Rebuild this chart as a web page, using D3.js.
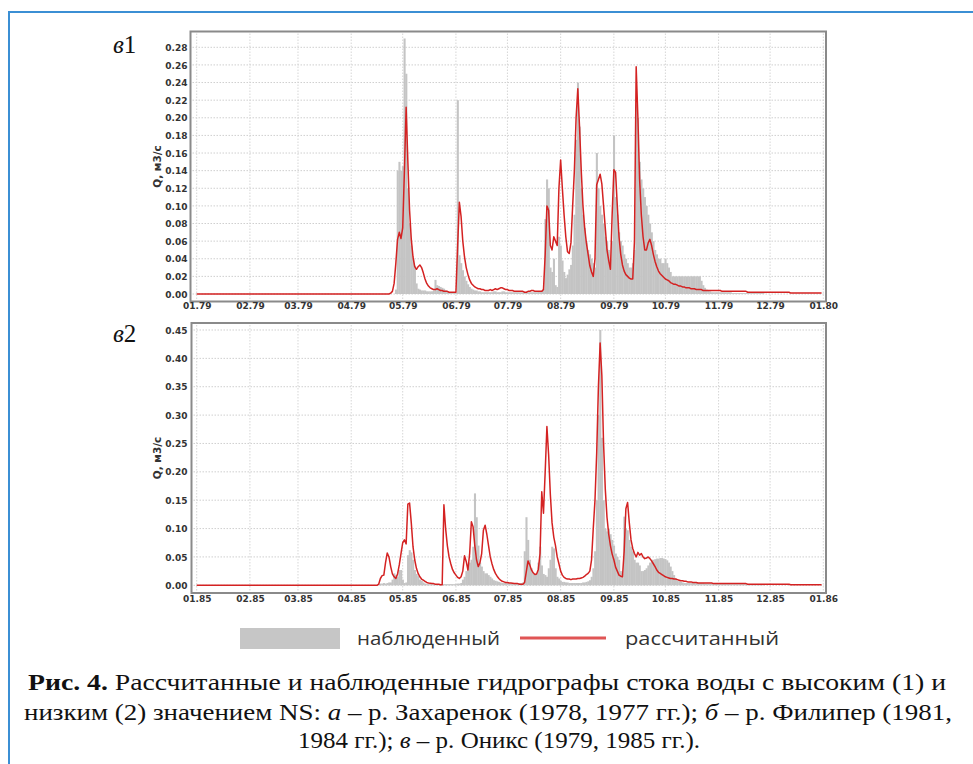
<!DOCTYPE html>
<html><head><meta charset="utf-8">
<script src="https://cdn.jsdelivr.net/npm/d3@7"></script>
<style>body{margin:0;background:#fff} svg{display:block} .serif{font-family:"Liberation Serif","Times New Roman",Times,serif}</style>
</head><body>
<svg id="c" width="973" height="764"></svg>
<script>
// ---------------- DATA ----------------
// panel в1 (1979), daily discharge Q, m3/s
const year1 = 1979;
const obs1Start = "1979-04-23";
const obs1 = [
 0,0,0,0,0.005,0.14,0.15,0.14,0.145,0.29,
 0.25,0.12,0.08,0.055,0.04,0.032,0.012,0.006,0.005,0.004,
 0.004,0.004,0.003,0.003,0.003,0.003,0.004,0.016,0.01,0.009,
 0.008,0.007,0.006,0.004,0.003,0.002,0.001,0.001,0.001,0.001,
 0.22,0.044,0.035,0.027,0.02,0.015,0.011,0.008,0.006,0.005,
 0.004,0.004,0.003,0.003,0.002,0.002,0.002,0.002,0.002,0.002,
 0.002,0.003,0.003,0.002,0.002,0.002,0.003,0.003,0.002,0.002,
 0.002,0.002,0.002,0.002,0.002,0.002,0.002,0.002,0.002,0.002,
 0.002,0.002,0.002,0.002,0.002,0.002,0.002,0.003,0.003,0.003,
 0.005,0.085,0.13,0.12,0.03,0.025,0.04,0.01,0.008,0.065,
 0.055,0.038,0.025,0.018,0.022,0.028,0.033,0.055,0.09,0.175,
 0.24,0.19,0.12,0.09,0.075,0.06,0.05,0.045,0.04,0.035,
 0.03,0.16,0.12,0.1,0.09,0.08,0.065,0.06,0.05,0.04,
 0.06,0.18,0.11,0.09,0.07,0.06,0.055,0.045,0.04,0.035,
 0.03,0.03,0.035,0.05,0.215,0.2,0.15,0.13,0.12,0.11,
 0.1,0.09,0.08,0.07,0.06,0.05,0.045,0.04,0.04,0.035,
 0.035,0.04,0.035,0.03,0.025,0.02,0.02,0.02,0.02,0.02,
 0.02,0.02,0.02,0.02,0.02,0.02,0.02,0.02,0.02,0.02,
 0.02,0.02,0.015,0.01,0.007,0.005,0.004,0.003,0.002,0.002,
 0.002,0.002,0.002,0.002,0.002,0.002,0.002,0.002,0.002,0.002,
 0.001,0.001,0.001,0.001,0.001,0.001,0.001,0.001,0.001,0.001,
 0.001,0.001,0.001,0.001,0.001,0.001,0.001,0.001,0.001
];
const calc1Start = "1979-04-23";
const calc1 = [
 0,0.001,0.003,0.012,0.035,0.062,0.07,0.063,0.075,0.14,
 0.212,0.15,0.095,0.062,0.042,0.031,0.028,0.031,0.033,0.03,
 0.024,0.017,0.012,0.009,0.007,0.006,0.005,0.005,0.006,0.005,
 0.004,0.004,0.003,0.003,0.003,0.002,0.002,0.002,0.002,0.002,
 0.055,0.104,0.088,0.06,0.042,0.03,0.022,0.016,0.012,0.01,
 0.008,0.007,0.006,0.006,0.005,0.005,0.004,0.004,0.004,0.005,
 0.004,0.005,0.006,0.005,0.006,0.007,0.007,0.006,0.005,0.005,
 0.004,0.004,0.004,0.003,0.003,0.003,0.003,0.003,0.003,0.002,
 0.002,0.003,0.003,0.004,0.004,0.003,0.003,0.003,0.003,0.003,
 0.005,0.045,0.1,0.095,0.055,0.05,0.065,0.06,0.055,0.12,
 0.152,0.12,0.09,0.065,0.048,0.046,0.058,0.1,0.14,0.2,
 0.233,0.19,0.14,0.1,0.075,0.058,0.045,0.032,0.025,0.02,
 0.04,0.124,0.13,0.136,0.125,0.1,0.075,0.05,0.038,0.028,
 0.09,0.141,0.138,0.1,0.065,0.045,0.033,0.026,0.022,0.02,
 0.018,0.017,0.017,0.06,0.258,0.2,0.13,0.09,0.065,0.05,
 0.05,0.058,0.062,0.055,0.045,0.037,0.031,0.026,0.023,0.021,
 0.019,0.017,0.016,0.015,0.013,0.012,0.011,0.011,0.01,0.009,
 0.009,0.008,0.008,0.007,0.007,0.007,0.006,0.006,0.006,0.005,
 0.005,0.005,0.005,0.004,0.004,0.004,0.004,0.004,0.004,0.004,
 0.004,0.004,0.004,0.004,0.003,0.003,0.003,0.003,0.003,0.003,
 0.003,0.003,0.003,0.003,0.003,0.003,0.003,0.003,0.003,0.002,
 0.002,0.002,0.002,0.002,0.002,0.002,0.002,0.002,0.002,0.002,
 0.002,0.002,0.002,0.002,0.002,0.002,0.002,0.002,0.002,0.002,
 0.002,0.002,0.002,0.002,0.001,0.001,0.001,0.001,0.001,0.001,
 0.001,0.001,0.001,0.001,0.001,0.001,0.001,0.001,0.001,0.001,
 0.001,0.001,0.001
];
const yTicks1 = [0,0.02,0.04,0.06,0.08,0.10,0.12,0.14,0.16,0.18,0.20,0.22,0.24,0.26,0.28];
const xLabels1 = ["01.79","02.79","03.79","04.79","05.79","06.79","07.79","08.79","09.79","10.79","11.79","12.79","01.80"];

// panel в2 (1985)
const year2 = 1985;
const obs2Start = "1985-04-15";
const obs2 = [
 0,0,0.002,0.003,0.003,0.004,0.003,0.004,0.005,0.005,
 0.01,0.021,0.018,0.015,0.027,0.027,0.01,0.004,0.005,0.053,
 0.062,0.058,0.045,0.027,0.02,0.016,0.01,0.008,0.005,0.003,
 0.002,0.002,0.002,0.002,0.002,0.002,0.002,0.002,0.002,0.002,
 0.002,0.002,0.002,0.002,0.002,0.002,0.002,0.002,0.003,0.003,
 0.004,0.01,0.015,0.025,0.033,0.04,0.045,0.068,0.162,0.12,
 0.07,0.04,0.033,0.025,0.021,0.021,0.018,0.015,0.012,0.009,
 0.008,0.007,0.006,0.005,0.004,0.004,0.004,0.004,0.003,0.003,
 0.003,0.003,0.004,0.004,0.004,0.004,0.005,0.06,0.12,0.08,
 0.045,0.03,0.021,0.018,0.021,0.04,0.068,0.035,0.02,0.018,
 0.015,0.03,0.045,0.068,0.065,0.03,0.015,0.012,0.008,0.006,
 0.006,0.005,0.005,0.004,0.004,0.004,0.004,0.004,0.004,0.004,
 0.004,0.005,0.005,0.006,0.007,0.009,0.015,0.03,0.06,0.15,
 0.3,0.45,0.26,0.15,0.1,0.095,0.1,0.09,0.08,0.07,
 0.056,0.05,0.045,0.025,0.02,0.121,0.1,0.097,0.08,0.068,
 0.06,0.045,0.04,0.04,0.035,0.025,0.025,0.027,0.03,0.035,
 0.04,0.045,0.045,0.046,0.047,0.047,0.048,0.048,0.047,0.046,
 0.044,0.04,0.033,0.025,0.018,0.012,0.008,0.007,0.006,0.005,
 0.004,0.004,0.004,0.004,0.004,0.004,0.004,0.004,0.004,0.004,
 0.004,0.004,0.003,0.003,0.003,0.003,0.003,0.003,0.003,0.003,
 0.003,0.003,0.003,0.003,0.003,0.003,0.003,0.002,0.002,0.002,
 0.002,0.002,0.002,0.002,0.002,0.002,0.002,0.002,0.002,0.002,
 0.002,0.002,0.002,0.002,0.002,0.002,0.002
];
const calc2Start = "1985-04-15";
const calc2 = [
 0,0,0.002,0.012,0.017,0.018,0.04,0.057,0.05,0.033,
 0.02,0.015,0.012,0.02,0.036,0.056,0.075,0.08,0.073,0.143,
 0.145,0.11,0.068,0.045,0.03,0.021,0.015,0.011,0.009,0.007,
 0.005,0.004,0.0035,0.003,0.003,0.002,0.002,0.002,0.001,0.001,
 0.142,0.1,0.07,0.05,0.038,0.028,0.022,0.018,0.014,0.012,
 0.015,0.025,0.052,0.042,0.027,0.056,0.112,0.103,0.07,0.045,
 0.033,0.04,0.056,0.097,0.106,0.09,0.07,0.05,0.038,0.028,
 0.021,0.016,0.012,0.009,0.007,0.006,0.005,0.005,0.004,0.004,
 0.0035,0.003,0.003,0.003,0.002,0.002,0.002,0.005,0.024,0.043,
 0.036,0.027,0.022,0.019,0.02,0.028,0.056,0.165,0.127,0.2,
 0.28,0.23,0.16,0.11,0.085,0.07,0.05,0.038,0.025,0.018,
 0.014,0.012,0.011,0.011,0.01,0.011,0.011,0.011,0.012,0.012,
 0.013,0.014,0.016,0.019,0.021,0.025,0.045,0.1,0.15,0.233,
 0.35,0.427,0.37,0.25,0.17,0.12,0.09,0.07,0.055,0.045,
 0.032,0.025,0.018,0.016,0.015,0.06,0.135,0.146,0.11,0.08,
 0.065,0.056,0.05,0.058,0.053,0.056,0.05,0.047,0.048,0.05,
 0.047,0.043,0.038,0.033,0.027,0.023,0.021,0.019,0.017,0.015,
 0.014,0.013,0.012,0.012,0.011,0.011,0.01,0.009,0.008,0.008,
 0.007,0.007,0.006,0.006,0.006,0.005,0.005,0.005,0.004,0.004,
 0.004,0.004,0.004,0.004,0.004,0.004,0.004,0.003,0.003,0.003,
 0.003,0.003,0.003,0.003,0.003,0.003,0.003,0.003,0.003,0.003,
 0.003,0.003,0.003,0.003,0.003,0.003,0.003,0.002,0.002,0.002,
 0.002,0.002,0.002,0.002,0.002,0.002,0.002,0.002,0.002,0.002,
 0.002,0.002,0.002,0.002,0.002,0.002,0.002,0.002,0.002,0.002,
 0.002,0.002,0.001,0.001,0.001,0.001,0.001,0.001,0.001,0.001,
 0.001,0.001,0.001,0.001,0.001,0.001,0.001,0.001,0.001,0.001,0.001
];
const yTicks2 = [0,0.05,0.10,0.15,0.20,0.25,0.30,0.35,0.40,0.45];
const xLabels2 = ["01.85","02.85","03.85","04.85","05.85","06.85","07.85","08.85","09.85","10.85","11.85","12.85","01.86"];

const yTitle = "Q, м3/с";
const legendLabels = ["наблюденный", "рассчитанный"];

// ---------------- DRAWING ----------------
const svg = d3.select("#c");
const parse = d3.utcParse("%Y-%m-%d");
const COL_OBS = "#c4c4c4", COL_CALC = "#d42222";

// blue figure frame
svg.append("path").attr("d", "M9,764 V12 H973")
  .attr("fill", "none").attr("stroke", "#3b8fd4").attr("stroke-width", 2);

function series(startStr, values) {
  const s = parse(startStr);
  return values.map((v, i) => ({date: d3.utcDay.offset(s, i), v}));
}

function drawPanel(o) {
  const g = svg.append("g");
  const t0 = new Date(Date.UTC(o.year, 0, 1)), t1 = new Date(Date.UTC(o.year + 1, 0, 1));
  const x = d3.scaleUtc().domain([t0, t1]).range([196.7, 823.3]);
  const y = d3.scaleLinear().domain([0, o.yTicks[o.yTicks.length - 1]]).range(o.yRange);
  const f = o.frame;

  g.append("rect").attr("x", f.l).attr("y", f.t).attr("width", f.r - f.l).attr("height", f.b - f.t)
    .attr("fill", "#fff");

  // grid
  const months = d3.utcMonth.range(t0, d3.utcDay.offset(t1, 1));
  g.append("g").selectAll("line").data(o.yTicks).join("line")
    .attr("x1", f.l + 2).attr("x2", f.r - 2).attr("y1", d => y(d)).attr("y2", d => y(d))
    .attr("stroke", "#cfcfcf").attr("stroke-width", 1).attr("stroke-dasharray", "1.5,1.5");
  g.append("g").selectAll("line").data(months).join("line")
    .attr("x1", d => x(d)).attr("x2", d => x(d)).attr("y1", f.t + 2).attr("y2", f.b - 2)
    .attr("stroke", "#d6d6d6").attr("stroke-width", 1).attr("stroke-dasharray", "1.5,1.5");

  // observed bars
  const obs = series(o.obsStart, o.obs).filter(d => d.v > 0);
  const w = x(d3.utcDay.offset(t0, 1)) - x(t0);
  g.append("g").selectAll("rect").data(obs).join("rect")
    .attr("x", d => x(d.date) - w / 2).attr("width", w + 0.35)
    .attr("y", d => y(d.v)).attr("height", d => y(0) - y(d.v))
    .attr("fill", COL_OBS);

  // computed line (flat zero before the data window)
  const calc = [{date: t0, v: 0}].concat(series(o.calcStart, o.calc));
  g.append("path").datum(calc)
    .attr("d", d3.line().x(d => x(d.date)).y(d => y(d.v)))
    .attr("fill", "none").attr("stroke", COL_CALC).attr("stroke-width", 1.5)
    .attr("stroke-linejoin", "round");

  // frame
  g.append("rect").attr("x", f.l).attr("y", f.t).attr("width", f.r - f.l).attr("height", f.b - f.t)
    .attr("fill", "none").attr("stroke", "#8a8a8a").attr("stroke-width", 2);

  // y axis labels
  const yAxis = d3.axisLeft(y).tickValues(o.yTicks).tickFormat(d3.format(".2f")).tickSize(0).tickPadding(0);
  g.append("g").attr("transform", `translate(187.5,0)`).call(yAxis)
    .call(s => s.select(".domain").remove())
    .call(s => s.selectAll("text").attr("font-family", "DejaVu Sans").attr("font-weight", "bold")
      .attr("font-size", 9).attr("fill", "#333").attr("dy", "0.35em"));

  // x axis labels
  const xAxis = d3.axisBottom(x).tickValues(months).tickFormat((d, i) => o.xLabels[i]).tickSize(0).tickPadding(0);
  g.append("g").attr("transform", `translate(0,${o.xLabelY})`).call(xAxis)
    .call(s => s.select(".domain").remove())
    .call(s => s.selectAll("text").attr("font-family", "DejaVu Sans").attr("font-weight", "bold")
      .attr("font-size", 9).attr("fill", "#333").attr("dy", "0.71em"));

  // y title
  g.append("text").attr("transform", `translate(161,${(f.t + f.b) / 2}) rotate(-90)`)
    .attr("text-anchor", "middle").attr("font-family", "DejaVu Sans").attr("font-weight", "bold")
    .attr("font-size", 10.5).attr("fill", "#333").text(yTitle);

  // panel tag
  const tag = svg.append("text").attr("class", "serif").attr("x", 113).attr("y", o.tagY)
    .attr("font-size", 25).attr("fill", "#111");
  tag.append("tspan").attr("font-style", "italic").text("в");
  tag.append("tspan").text(o.tagNum);
}

drawPanel({year: year1, obs: obs1, obsStart: obs1Start, calc: calc1, calcStart: calc1Start,
  yTicks: yTicks1, xLabels: xLabels1, yRange: [294, 47.3],
  frame: {l: 190.5, t: 31.5, r: 826, b: 301.5}, xLabelY: 303, tagY: 53, tagNum: "1"});
drawPanel({year: year2, obs: obs2, obsStart: obs2Start, calc: calc2, calcStart: calc2Start,
  yTicks: yTicks2, xLabels: xLabels2, yRange: [585.3, 330],
  frame: {l: 191.5, t: 323, r: 826, b: 593}, xLabelY: 596, tagY: 342, tagNum: "2"});

// legend
const lg = svg.append("g");
lg.append("rect").attr("x", 240).attr("y", 628).attr("width", 100).attr("height", 21).attr("fill", "#c6c6c6");
lg.append("text").attr("x", 357).attr("y", 645).attr("font-family", "Open Sans").attr("font-size", 19)
  .attr("fill", "#333").attr("textLength", 143).attr("lengthAdjust", "spacingAndGlyphs").text(legendLabels[0]);
lg.append("line").attr("x1", 520).attr("x2", 606).attr("y1", 638).attr("y2", 638)
  .attr("stroke", "#e05555").attr("stroke-width", 3);
lg.append("text").attr("x", 625).attr("y", 645).attr("font-family", "Open Sans").attr("font-size", 19)
  .attr("fill", "#333").attr("textLength", 154).attr("lengthAdjust", "spacingAndGlyphs").text(legendLabels[1]);

// caption
function capLine(yb, x0, len, parts) {
  const t = svg.append("text").attr("class", "serif").attr("x", x0).attr("y", yb)
    .attr("font-size", 23).attr("fill", "#111").attr("textLength", len).attr("lengthAdjust", "spacingAndGlyphs");
  parts.forEach(p => {
    const s = t.append("tspan").text(p[0]);
    if (p[1] === "b") s.attr("font-weight", "bold");
    if (p[1] === "i") s.attr("font-style", "italic");
  });
}
capLine(690, 28, 918, [["Рис. 4.", "b"], [" Рассчитанные и наблюденные гидрографы стока воды с высоким (1) и"]]);
capLine(720, 24, 928, [["низким (2) значением NS: "], ["а", "i"], [" – р. Захаренок (1978, 1977 гг.); "], ["б", "i"], [" – р. Филипер (1981,"]]);
capLine(748, 298, 402, [["1984 гг.); "], ["в", "i"], [" – р. Оникс (1979, 1985 гг.)."]]);
</script>
</body></html>
